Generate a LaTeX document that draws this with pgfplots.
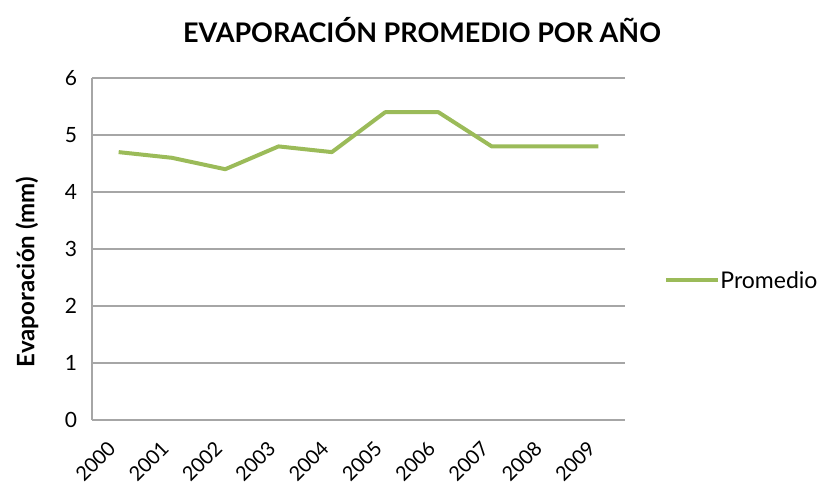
\documentclass[border=0pt]{standalone}
\usepackage{pgfplots}
\pgfplotsset{compat=1.18}
\usepackage{fontspec}
\setmainfont{Lato}
\definecolor{lgreen}{HTML}{9BBB59}
\definecolor{gridgray}{HTML}{A6A6A6}
\begin{document}
\begin{tikzpicture}
\path[use as bounding box] (0,0) rectangle (415.5pt,244pt);
\begin{axis}[
  at={(46pt,34pt)}, anchor=south west,
  scale only axis, width=266.5pt, height=171pt,
  xmin=-0.5, xmax=9.5, ymin=0, ymax=6,
  xtick={0,...,9},
  xticklabels={2000,2001,2002,2003,2004,2005,2006,2007,2008,2009},
  ytick={0,1,...,6},
  axis lines*=left,
  axis line style={gridgray, line width=0.6pt},
  ymajorgrids, grid style={gridgray, line width=0.6pt},
  major tick length=0pt,
  tick style={draw=none},
  /pgf/number format/assume math mode=true,
  yticklabel style={font=\fontsize{10.5}{12}\selectfont, xshift=-4pt},
  xticklabel style={font=\fontsize{10}{12}\selectfont, xshift=-6pt, yshift=-9.5pt, rotate=45, anchor=north east, inner sep=0pt},
  clip=false,
]
\addplot[lgreen, line width=2pt, line join=round] coordinates {
(0,4.7) (1,4.6) (2,4.4) (3,4.8) (4,4.7) (5,5.4) (6,5.4) (7,4.8) (8,4.8) (9,4.8)
};
\end{axis}
\node[font=\bfseries\fontsize{13.5}{15}\selectfont] at (211pt,229pt) {EVAPORACIÓN PROMEDIO POR AÑO};
\node[font=\bfseries\fontsize{12}{14}\selectfont, rotate=90] at (13.5pt,108pt) {Evaporación (mm)};
\draw[lgreen, line width=2pt] (333pt,104pt) -- (359pt,104pt);
\node[anchor=west, font=\fontsize{11.5}{13}\selectfont, inner sep=0pt] at (360pt,104pt) {Promedio};
\end{tikzpicture}
\end{document}
